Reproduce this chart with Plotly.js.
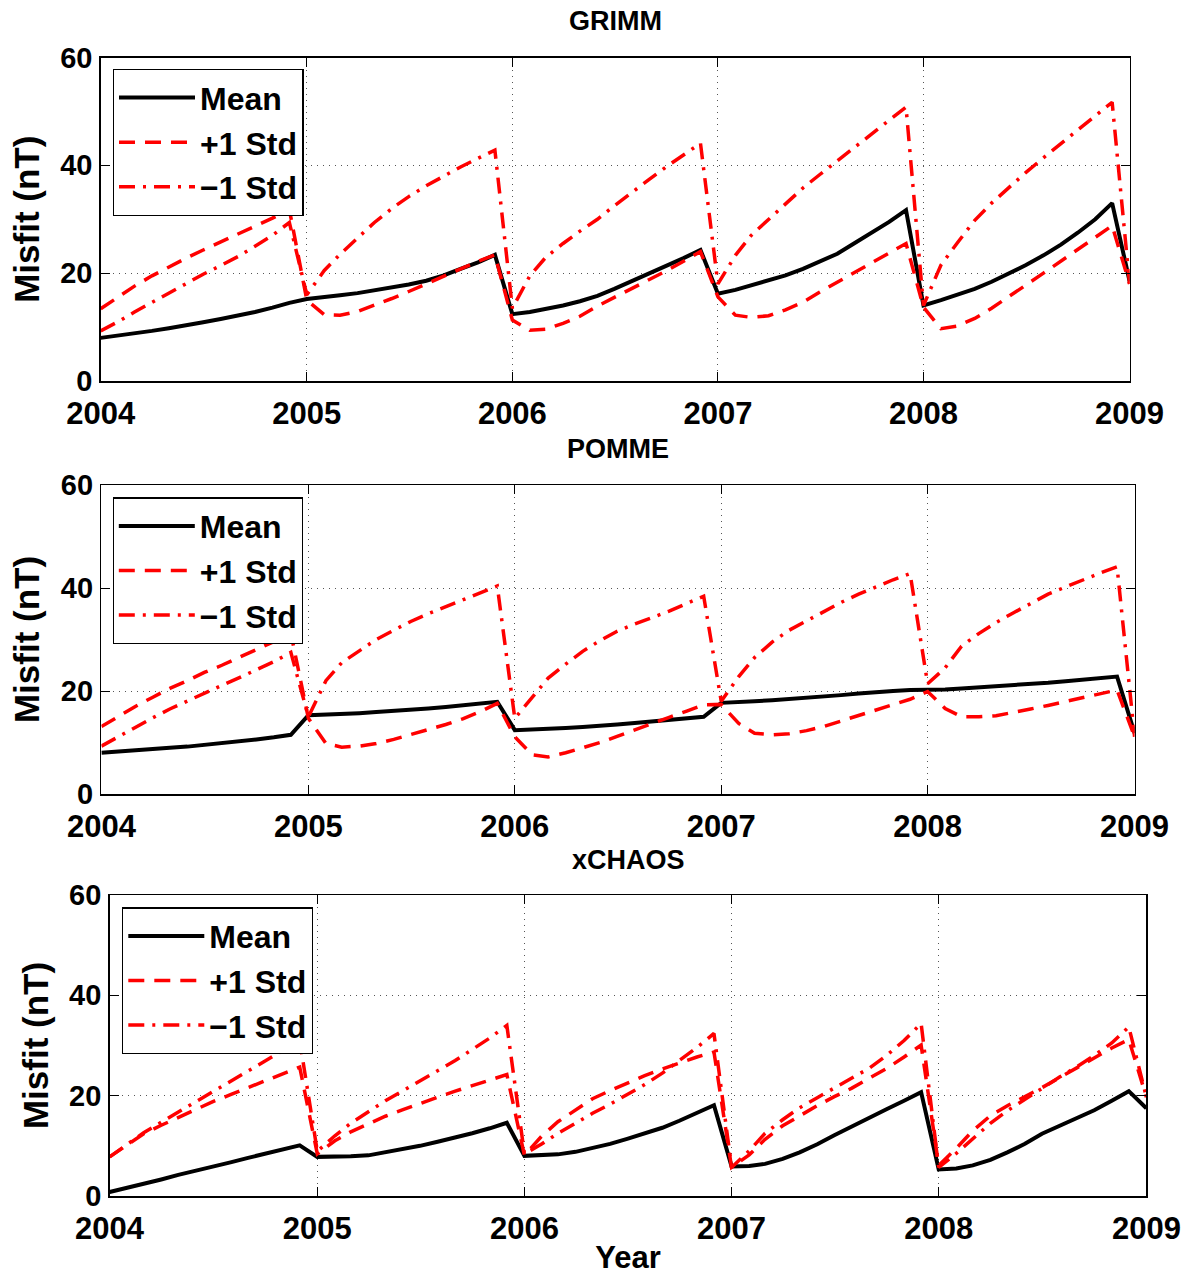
<!DOCTYPE html>
<html>
<head>
<meta charset="utf-8">
<script src="https://cdn.plot.ly/plotly-3.0.1.min.js"></script>
<style>html,body{margin:0;padding:0;background:#fff;}#plot{width:1189px;height:1275px;}</style>
</head>
<body>
<div id="plot"></div>
<script>
// Monthly sample dates (Jan 2004 .. Jan 2009)
const months = [
 "2004-01","2004-02","2004-03","2004-04","2004-05","2004-06","2004-07","2004-08","2004-09","2004-10","2004-11","2004-12",
 "2005-01","2005-02","2005-03","2005-04","2005-05","2005-06","2005-07","2005-08","2005-09","2005-10","2005-11","2005-12",
 "2006-01","2006-02","2006-03","2006-04","2006-05","2006-06","2006-07","2006-08","2006-09","2006-10","2006-11","2006-12",
 "2007-01","2007-02","2007-03","2007-04","2007-05","2007-06","2007-07","2007-08","2007-09","2007-10","2007-11","2007-12",
 "2008-01","2008-02","2008-03","2008-04","2008-05","2008-06","2008-07","2008-08","2008-09","2008-10","2008-11","2008-12",
 "2009-01"];

const panelTitles = ["GRIMM", "POMME", "xCHAOS"];
const seriesNames = ["Mean", "+1 Std", "\u22121 Std"];
const yTickVals = [0, 20, 40, 60];
const xTickYears = ["2004","2005","2006","2007","2008","2009"];

// GRIMM
const grimmMean = [8.0,8.4,8.8,9.3,9.8,10.3,10.9,11.5,12.1,12.8,13.6,14.5,
 15.2,15.5,15.9,16.3,16.8,17.3,17.9,18.6,19.6,20.8,22.0,23.4,
 12.4,12.8,13.3,14.0,14.8,15.8,17.1,18.5,20.0,21.4,22.8,24.3,
 16.2,16.9,17.7,18.6,19.6,20.8,22.1,23.6,25.6,27.5,29.5,31.7,
 14.0,15.0,16.0,17.1,18.4,19.9,21.5,23.3,25.3,27.5,30.0,33.0,18.5];
const grimmPlus = [13.4,15.6,17.6,19.5,21.2,22.8,24.3,25.8,27.2,28.7,30.2,31.8,
 15.0,12.3,12.2,12.9,14.0,15.3,16.6,18.0,19.5,20.9,22.2,23.4,
 11.3,9.4,9.6,10.7,12.0,13.9,15.5,17.0,18.7,20.4,22.2,24.0,
 15.6,12.2,11.8,12.1,13.2,14.6,16.5,18.3,20.2,22.0,23.8,25.5,
 13.7,9.7,10.2,11.6,13.5,15.6,17.8,20.0,22.2,24.5,26.7,28.8,18.0];
const grimmMinus = [9.3,11.0,12.8,14.6,16.3,18.1,19.8,21.4,23.1,25.0,27.0,29.4,
 16.0,20.5,23.5,26.5,29.4,32.0,34.2,36.2,38.0,39.7,41.3,42.8,
 13.5,19.5,22.9,25.5,27.8,30.0,32.5,35.0,37.4,39.7,41.9,44.1,
 18.0,23.3,27.0,30.0,33.0,35.8,38.3,40.8,43.3,45.9,48.4,50.8,
 14.0,21.5,25.6,29.8,33.0,36.0,38.7,41.4,44.0,46.6,49.2,51.7,18.0];

// POMME
const pommeMean = [8.0,8.3,8.6,8.8,9.0,9.2,9.5,9.8,10.2,10.6,11.0,11.5,
 15.3,15.4,15.6,15.7,15.9,16.1,16.4,16.6,16.9,17.2,17.5,17.9,
 12.4,12.5,12.6,12.8,13.0,13.2,13.5,13.8,14.1,14.4,14.7,15.0,
 17.7,17.8,18.0,18.2,18.4,18.6,18.9,19.2,19.5,19.8,20.0,20.2,
 20.2,20.3,20.5,20.7,20.9,21.1,21.3,21.6,21.9,22.2,22.5,22.8,11.8];
const pommePlus = [13.1,15.2,17.0,18.8,20.5,22.0,23.6,25.0,26.5,28.0,29.6,31.2,
 14.7,9.8,9.1,9.3,9.8,10.6,11.5,12.5,13.5,14.6,16.0,17.6,
 11.1,7.6,7.2,8.0,8.9,10.0,11.2,12.5,13.7,14.9,16.1,17.3,
 17.4,13.7,11.8,11.5,11.7,12.3,13.1,14.2,15.3,16.4,17.4,18.4,
 19.9,16.6,15.0,15.0,15.2,15.8,16.5,17.2,18.0,18.8,19.5,20.2,11.1];
const pommeMinus = [9.3,11.2,13.0,14.8,16.5,18.1,19.6,21.1,22.6,24.1,25.7,27.5,
 15.0,22.0,25.5,27.8,30.0,31.8,33.5,35.0,36.4,37.8,39.1,40.4,
 14.7,18.9,22.5,25.2,27.7,29.8,31.6,33.0,34.2,35.5,37.0,38.4,
 18.0,22.8,26.5,29.5,31.8,33.6,35.4,37.2,38.8,40.2,41.6,42.8,
 21.4,24.5,28.7,31.2,33.3,35.2,37.0,38.8,40.2,41.6,42.9,44.1,11.1];

// xCHAOS
const xchaosMean = [0.8,1.6,2.5,3.3,4.2,5.0,5.9,6.7,7.6,8.4,9.3,10.1,
 7.8,7.8,7.9,8.1,8.7,9.3,10.0,10.8,11.6,12.5,13.5,14.6,
 8.0,8.2,8.3,8.8,9.5,10.4,11.4,12.4,13.6,15.0,16.5,18.1,
 5.9,6.0,6.4,7.4,8.7,10.3,12.1,13.9,15.6,17.3,19.0,20.7,
 5.3,5.5,6.1,7.2,8.7,10.4,12.4,14.0,15.6,17.1,19.0,20.9,17.5];
const xchaosPlus = [7.8,10.2,12.4,14.1,15.7,17.3,18.8,20.2,21.6,23.0,24.4,25.7,
 8.4,11.0,12.8,14.4,15.9,17.2,18.5,19.7,20.9,22.0,23.1,24.2,
 8.1,12.0,14.8,17.2,19.4,21.0,22.5,24.0,25.3,26.5,27.7,28.7,
 5.7,8.2,11.3,14.0,16.0,18.0,19.8,21.5,23.5,25.4,27.7,30.1,
 6.1,9.5,13.0,16.0,18.0,19.8,21.6,23.6,25.6,27.6,29.5,31.2,19.7];
const xchaosMinus = [7.8,10.3,12.6,14.7,16.8,18.8,20.8,22.8,24.8,26.9,29.0,31.0,
 8.9,12.0,14.5,16.8,19.0,21.0,23.0,25.0,27.0,29.2,31.5,34.0,
 8.4,10.4,12.5,14.5,16.5,18.3,20.2,22.2,24.5,27.0,29.6,32.4,
 5.7,9.0,12.5,15.2,17.6,19.6,21.5,23.5,25.5,28.0,31.0,34.4,
 5.7,8.5,11.5,14.5,17.0,19.3,21.5,23.7,25.8,28.0,30.5,33.7,19.7];

const panels = [
  {mean: grimmMean, plus: grimmPlus, minus: grimmMinus},
  {mean: pommeMean, plus: pommePlus, minus: pommeMinus},
  {mean: xchaosMean, plus: xchaosPlus, minus: xchaosMinus}
];

const FONT = "Liberation Sans, Arial, Helvetica, sans-serif";
const W = 1189, H = 1275;
// plot boxes in pixels [left, right, top, bottom]
const boxes = [[100.7, 1129.6, 57.5, 381], [101.4, 1134.6, 485, 794], [109.6, 1146.4, 895, 1196]];
const legendPos = [[112.7, 69], [112.5, 497.3], [122, 907.3]];
const titleY = [21, 449, 860];

const dashStyle = "16px,10px";
const dashDotStyle = "16px,8px,3px,8px";

const data = [];
const layout = {
  width: W, height: H,
  margin: {l: 0, r: 0, t: 0, b: 0},
  paper_bgcolor: "#fff", plot_bgcolor: "#fff",
  font: {family: FONT, color: "#000", weight: "bold"},
  showlegend: true,
  annotations: []
};

panels.forEach((p, i) => {
  const n = i + 1;
  const xa = "x" + (n === 1 ? "" : n), ya = "y" + (n === 1 ? "" : n);
  const leg = "legend" + (n === 1 ? "" : n);
  const vals = [p.mean, p.plus, p.minus];
  const lines = [
    {color: "#000", width: 4, dash: "solid"},
    {color: "#ff0000", width: 3.5, dash: dashStyle},
    {color: "#ff0000", width: 3.5, dash: dashDotStyle}
  ];
  vals.forEach((v, j) => {
    data.push({
      type: "scatter", mode: "lines", x: months, y: v,
      xaxis: xa, yaxis: ya, name: seriesNames[j], legend: leg,
      line: lines[j], hoverinfo: "skip"
    });
  });
  const b = boxes[i];
  const axCommon = {
    showline: true, linecolor: "#000", linewidth: 1.5, mirror: "ticks",
    ticks: "inside", ticklen: 9, tickwidth: 1, tickcolor: "#000",
    showgrid: true, gridcolor: "#555", gridwidth: 1, griddash: "1px,5px",
    zeroline: false, automargin: false
  };
  layout["xaxis" + (n === 1 ? "" : n)] = Object.assign({}, axCommon, {
    domain: [b[0] / W, b[1] / W], anchor: ya,
    type: "date", range: ["2004-01-01", "2009-01-01"],
    tickvals: xTickYears.map(s => s + "-01-01"), ticktext: xTickYears,
    tickfont: {family: FONT, size: 31, color: "#000", weight: "bold"},
    ticklabelstandoff: 4,
    title: n === 3 ? {text: "Year", font: {family: FONT, size: 31, color: "#000", weight: "bold"}, standoff: 2} : {text: ""}
  });
  layout["yaxis" + (n === 1 ? "" : n)] = Object.assign({}, axCommon, {
    domain: [1 - b[3] / H, 1 - b[2] / H], anchor: xa,
    range: [0, 60], tickvals: yTickVals,
    tickfont: {family: FONT, size: 29, color: "#000", weight: "bold"},
    ticklabelstandoff: 1,
    title: {text: "Misfit (nT)", font: {family: FONT, size: 35, color: "#000", weight: "bold"}, standoff: 10}
  });
  layout[leg] = {
    x: legendPos[i][0] / W, y: 1 - legendPos[i][1] / H, xanchor: "left", yanchor: "top",
    xref: "paper", yref: "paper",
    bgcolor: "#fff", bordercolor: "#000", borderwidth: 1.3,
    font: {family: FONT, size: 32, color: "#000", weight: "bold"},
    itemwidth: 76, tracegroupgap: 0
  };
  layout.annotations.push({
    text: panelTitles[i], xref: xa + " domain", x: 0.5, yref: "paper", y: 1 - titleY[i] / H,
    xanchor: "center", yanchor: "middle", showarrow: false,
    font: {family: FONT, size: 27, color: "#000", weight: "bold"}
  });
});

Plotly.newPlot("plot", data, layout, {staticPlot: true, displayModeBar: false});
</script>
</body>
</html>
